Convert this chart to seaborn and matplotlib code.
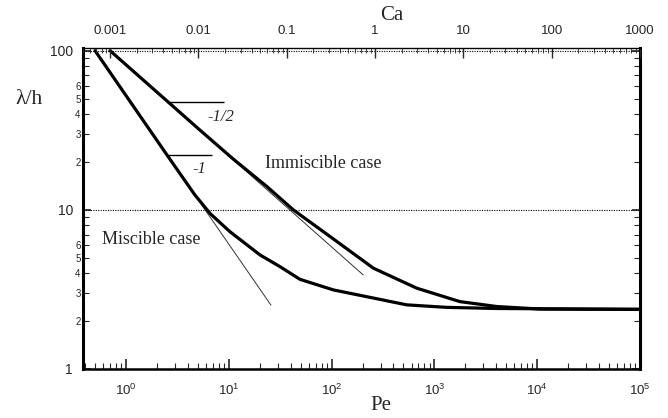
import numpy as np
import pandas as pd
import matplotlib
matplotlib.use("Agg")
import matplotlib.pyplot as plt
import matplotlib.ticker as mticker
import seaborn as sns

# ---------------- data ----------------
miscible_pe = [0.5, 2.47, 4.66, 6.56, 10.2, 20.1, 31.4, 49.2, 104, 236, 537, 1310, 4036, 100000]
miscible_lam = [100, 22.4, 12.45, 9.5, 7.31, 5.21, 4.4, 3.66, 3.14, 2.82, 2.53, 2.44, 2.40, 2.37]

immiscible_pe = [0.70, 2.47, 5.21, 11.0, 23.2, 42.4, 96.5, 255, 673, 1775, 4036, 10650, 100000]
immiscible_lam = [100, 48.7, 31.8, 20.9, 14.1, 10.0, 6.8, 4.30, 3.22, 2.65, 2.47, 2.38, 2.37]

slope_m1_pe = [0.5, 25.7]
slope_m1_lam = [100, 2.52]
slope_mhalf_pe = [0.70, 203]
slope_mhalf_lam = [100, 3.90]

bar_mhalf_pe = [2.49, 8.98]
bar_mhalf_lam = 47.8
bar_m1_pe = [2.58, 6.82]
bar_m1_lam = 22.2

ref_levels = [10, 100]

pe_ticks = [1, 10, 100, 1000, 10000, 100000]
pe_tick_labels = [r"$10^{0}$", r"$10^{1}$", r"$10^{2}$", r"$10^{3}$", r"$10^{4}$", r"$10^{5}$"]
ca_ticks = [0.001, 0.01, 0.1, 1, 10, 100, 1000]
ca_tick_labels = ["0.001", "0.01", "0.1", "1", "10", "100", "1000"]
y_major_ticks = [1, 10, 100]
y_major_labels = ["1", "10", "100"]
y_minor_ticks = [2, 3, 4, 5, 6, 7, 8, 9, 20, 30, 40, 50, 60, 70, 80, 90]
y_minor_labels = ["2", "3", "4", "5", "6", "", "", "", "2", "3", "4", "5", "6", "", "", ""]

# ---------------- style ----------------
sns.set_style("white")
plt.rcParams["font.family"] = ["Liberation Sans", "DejaVu Sans"]
plt.rcParams["mathtext.fontset"] = "custom"
plt.rcParams["mathtext.rm"] = "Liberation Sans"
plt.rcParams["mathtext.it"] = "Liberation Sans:italic"
plt.rcParams["mathtext.default"] = "regular"
serif = ["Liberation Serif", "DejaVu Serif"]

W, H = 668, 418
fig = plt.figure(figsize=(W / 100, H / 100), dpi=100)
ax = fig.add_axes([82.7 / W, 1 - 369 / H, (640 - 82.7) / W, (369 - 48) / H])
ax.set_xscale("log")
ax.set_yscale("log")

df_m = pd.DataFrame({"Pe": miscible_pe, "lam": miscible_lam})
df_i = pd.DataFrame({"Pe": immiscible_pe, "lam": immiscible_lam})
sns.lineplot(data=df_m, x="Pe", y="lam", ax=ax, color="black", lw=2.3,
             estimator=None, sort=False, zorder=3)
sns.lineplot(data=df_i, x="Pe", y="lam", ax=ax, color="black", lw=2.3,
             estimator=None, sort=False, zorder=3)
sns.lineplot(x=slope_m1_pe, y=slope_m1_lam, ax=ax, color="#333333", lw=0.7,
             estimator=None, sort=False, zorder=2)
sns.lineplot(x=slope_mhalf_pe, y=slope_mhalf_lam, ax=ax, color="#333333", lw=0.7,
             estimator=None, sort=False, zorder=2)
ax.hlines(bar_mhalf_lam, bar_mhalf_pe[0], bar_mhalf_pe[1], color="black", lw=1.0)
ax.hlines(bar_m1_lam, bar_m1_pe[0], bar_m1_pe[1], color="black", lw=1.0)
for lv in ref_levels:
    ax.axhline(lv, color="black", ls=(0, (1, 1.2)), lw=0.8, zorder=1)

ax.set_xlim(0.379, 1e5)
ax.set_ylim(1, 104)

ax.set_xticks(pe_ticks)
ax.set_xticklabels(pe_tick_labels)
ax.xaxis.set_minor_locator(mticker.LogLocator(base=10, subs=np.arange(2, 10)))
ax.xaxis.set_minor_formatter(mticker.NullFormatter())
ax.set_yticks(y_major_ticks)
ax.set_yticklabels(y_major_labels)
ax.set_yticks(y_minor_ticks, minor=True)
ax.set_yticklabels(y_minor_labels, minor=True)

ax.tick_params(axis="x", which="major", direction="in", length=7.5, width=1.2,
               labelsize=9.5, pad=10, top=False, bottom=True)
ax.tick_params(axis="x", which="minor", direction="in", length=4.5, width=0.8,
               top=False, bottom=True)
ax.tick_params(axis="y", which="major", direction="in", length=5.5, width=1.2,
               labelsize=10, pad=7, left=True, right=True)
ax.tick_params(axis="y", which="minor", direction="in", length=4.5, width=0.8,
               labelsize=7, pad=1.5, left=True, right=True)
ax.set_xlabel("")
ax.set_ylabel("")

for side, lw in [("left", 2.2), ("bottom", 1.8), ("right", 2.2)]:
    ax.spines[side].set_linewidth(lw)
    ax.spines[side].set_color("black")
ax.spines["top"].set_visible(False)

# top Ca axis
ax2 = ax.twiny()
ax2.set_xscale("log")
ax2.set_xlim(4.9e-4, 1000)
ax2.set_xticks(ca_ticks)
ax2.set_xticklabels(ca_tick_labels)
ax2.xaxis.set_minor_locator(mticker.LogLocator(base=10, subs=np.arange(2, 10)))
ax2.xaxis.set_minor_formatter(mticker.NullFormatter())
ax2.tick_params(axis="x", which="major", direction="in", length=7.5, width=1.0,
                labelsize=9.5, pad=8, top=True, bottom=False)
ax2.tick_params(axis="x", which="minor", direction="in", length=3.5, width=0.6,
                top=True, bottom=False)
for side in ["left", "right", "bottom"]:
    ax2.spines[side].set_visible(False)
ax2.spines["top"].set_linewidth(1.0)
ax2.spines["top"].set_color("black")
ax2.grid(False)
ax.grid(False)

# annotations
ax.text(22.5, 19.6, "Immiscible case", family=serif, fontsize=13,
        ha="left", va="center")
ax.text(0.584, 6.47, "Miscible case", family=serif, fontsize=13,
        ha="left", va="center")
ax.text(8.31, 38.2, "-1/2", family=serif, style="italic", fontsize=12,
        ha="center", va="center")
ax.text(5.13, 18.1, "-1", family=serif, style="italic", fontsize=12,
        ha="center", va="center")

fig.text(29 / W, 1 - 100 / H, "λ/h", family=serif, fontsize=15.5,
         ha="center", va="center")
fig.text(391.5 / W, 1 - 15 / H, "Ca", family=serif, fontsize=15,
         ha="center", va="center")
fig.text(381 / W, 1 - 405 / H, "Pe", family=serif, fontsize=15,
         ha="center", va="center")

fig.savefig("out.png", dpi=100)
